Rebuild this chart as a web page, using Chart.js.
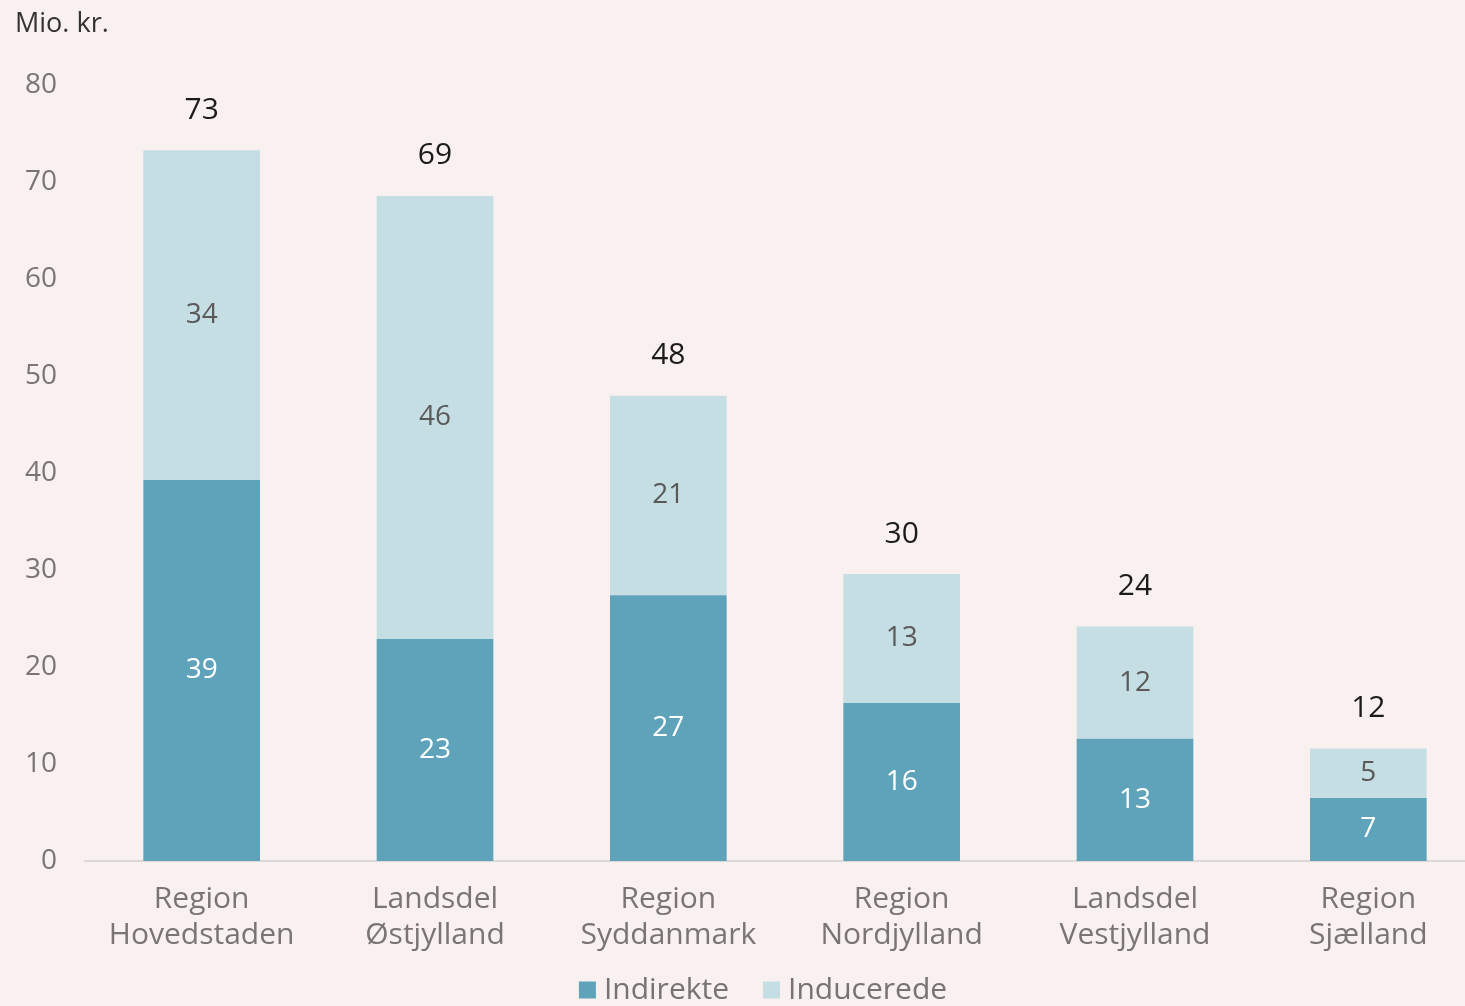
<!DOCTYPE html>
<html>
<head>
<meta charset="utf-8">
<script src="https://cdn.jsdelivr.net/npm/chart.js@4.4.1/dist/chart.umd.min.js"></script>
<style>
  html, body { margin: 0; padding: 0; background: #f8f1ef; overflow: hidden; }
  #wrap { width: 1485px; height: 1006px; }
</style>
</head>
<body>
<div id="wrap"><canvas id="chart"></canvas></div>
<script>
var regions = [["Region", "Hovedstaden"], ["Landsdel", "Østjylland"], ["Region", "Syddanmark"],
               ["Region", "Nordjylland"], ["Landsdel", "Vestjylland"], ["Region", "Sjælland"]];
var indirekte = [39.3, 22.9, 27.4, 16.3, 12.6, 6.5];
var inducerede = [34.0, 45.7, 20.6, 13.3, 11.6, 5.1];
var yTicks = [0, 10, 20, 30, 40, 50, 60, 70, 80];

var FONT = "'Open Sans', sans-serif";

// value labels inside the segments and totals on top
var valueLabels = {
  id: "valueLabels",
  afterDatasetsDraw: function(chart) {
    var ctx = chart.ctx;
    ctx.save();
    ctx.textAlign = "center";
    ctx.textBaseline = "middle";
    chart.data.datasets.forEach(function(ds, i) {
      var meta = chart.getDatasetMeta(i);
      ctx.fillStyle = i == 0 ? "#ffffff" : "#5b5858";
      ctx.font = "28px " + FONT;
      meta.data.forEach(function(bar, j) {
        var mid = (bar.y + bar.base) / 2;
        ctx.fillText(Math.round(ds.data[j]), bar.x, mid);
      });
    });
    var top = chart.getDatasetMeta(1);
    ctx.fillStyle = "#1b1b1b";
    ctx.font = "30px " + FONT;
    top.data.forEach(function(bar, j) {
      var total = indirekte[j] + inducerede[j];
      ctx.fillText(Math.round(total), bar.x, bar.y - 40);
    });
    ctx.restore();
  }
};

// simple bottom legend, centred a bit right like the original
var bottomLegend = {
  id: "bottomLegend",
  afterDraw: function(chart) {
    var ctx = chart.ctx;
    var sets = chart.data.datasets;
    ctx.save();
    ctx.font = "30px " + FONT;
    ctx.textBaseline = "middle";
    ctx.textAlign = "left";
    var box = 17, gap = 8, itemGap = 34;
    var total = 0;
    sets.forEach(function(ds, i) {
      total += box + gap + ctx.measureText(ds.label).width + (i ? itemGap : 0);
    });
    var x = 763 - total / 2;
    var y = 990;
    sets.forEach(function(ds) {
      ctx.fillStyle = ds.backgroundColor;
      ctx.fillRect(x, y - box / 2, box, box);
      ctx.fillStyle = "#777373";
      ctx.fillText(ds.label, x + box + gap, y);
      x += box + gap + ctx.measureText(ds.label).width + itemGap;
    });
    ctx.restore();
  }
};

new Chart("chart", {
  type: "bar",
  data: {
    labels: regions,
    datasets: [{
      label: "Indirekte",
      data: indirekte,
      backgroundColor: "#5fa3ba",
      barPercentage: 0.5,
      categoryPercentage: 1
    }, {
      label: "Inducerede",
      data: inducerede,
      backgroundColor: "#c5dee4",
      barPercentage: 0.5,
      categoryPercentage: 1
    }]
  },
  options: {
    responsive: true,
    maintainAspectRatio: false,
    animation: false,
    layout: { padding: { left: 15, right: 0, top: 0, bottom: 33 } },
    plugins: {
      title: {
        display: true,
        text: "Mio. kr.",
        align: "start",
        color: "#333333",
        font: { family: FONT, size: 27, weight: "normal" },
        padding: { top: 8, bottom: 45 }
      },
      legend: { display: false },
      tooltip: { enabled: false }
    },
    scales: {
      x: {
        stacked: true,
        grid: { display: false, drawTicks: false },
        border: { display: true, color: "#dcd8d7", width: 2 },
        ticks: { color: "#7a7574", font: { family: FONT, size: 30, lineHeight: 1.2 }, padding: 20, maxRotation: 0 }
      },
      y: {
        stacked: true,
        min: 0,
        max: 80,
        afterBuildTicks: function(axis) {
          axis.ticks = yTicks.map(function(v) { return { value: v }; });
        },
        afterFit: function(axis) { axis.width = 70; },
        grid: { display: false, drawTicks: false },
        border: { display: false },
        ticks: { color: "#7a7574", font: { family: FONT, size: 28 }, padding: 28 }
      }
    }
  },
  plugins: [valueLabels, bottomLegend]
});
</script>
</body>
</html>
